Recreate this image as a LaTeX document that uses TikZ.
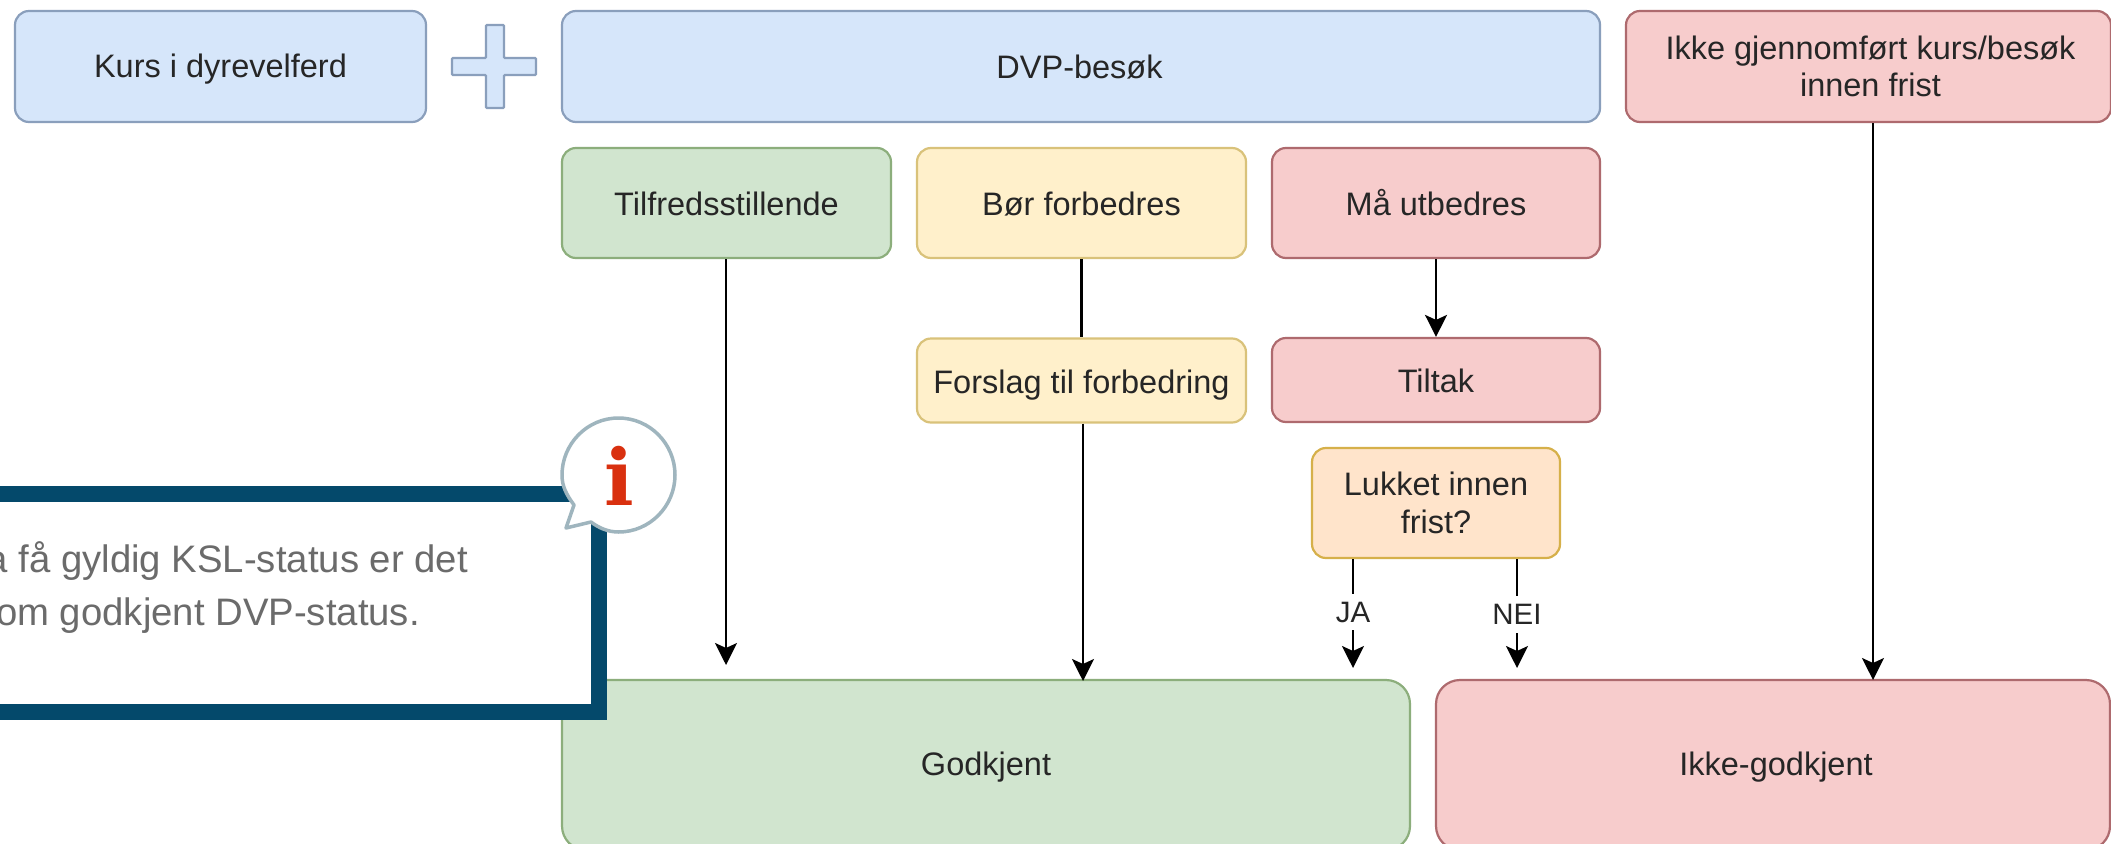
\documentclass[tikz,border=0pt]{standalone}
\usepackage{fontspec}
\setmainfont{Liberation Sans}
\newfontfamily\infoicon{DejaVu Serif}[BoldFont={* Bold}]
\usetikzlibrary{arrows.meta}
\definecolor{bluef}{HTML}{D6E6FA}\definecolor{blued}{HTML}{8A9FBC}
\definecolor{greenf}{HTML}{D1E5CF}\definecolor{greend}{HTML}{8CAE7C}
\definecolor{yellowf}{HTML}{FFF0CB}\definecolor{yellowd}{HTML}{D9C27A}
\definecolor{redf}{HTML}{F7CCCC}\definecolor{redd}{HTML}{AE6A6E}
\definecolor{orangef}{HTML}{FFE4CB}\definecolor{oranged}{HTML}{D6B04A}
\definecolor{infoblue}{HTML}{04496B}\definecolor{infogrey}{HTML}{9FB5BE}
\definecolor{infored}{HTML}{D9300F}\definecolor{txt}{HTML}{262626}
\tikzset{
  box/.style={rounded corners=14pt,line width=2.2pt,inner sep=0pt,align=center,text=txt,font=\fontsize{32.5}{37.5}\selectfont},
  bluebox/.style={box,fill=bluef,draw=blued},
  greenbox/.style={box,fill=greenf,draw=greend},
  yellowbox/.style={box,fill=yellowf,draw=yellowd},
  redbox/.style={box,fill=redf,draw=redd},
  orangebox/.style={box,fill=orangef,draw=oranged},
  conn/.style={line width=2.2pt,black},
  arr/.style={conn,-{Stealth[length=22pt,width=22pt,inset=5pt]}},
  lab/.style={fill=white,inner xsep=2pt,inner ysep=8pt,text=txt,font=\fontsize{29.5}{34}\selectfont},
  infotext/.style={anchor=base east,text=black!58,font=\fontsize{38.3}{44}\selectfont,inner sep=0pt},
}
\newcommand{\baseat}[2]{\raisebox{-#1pt}[0pt][0pt]{#2}}
\begin{document}
\begin{tikzpicture}[x=1pt,y=-1pt]
\useasboundingbox (0,0) rectangle (2111,843);
\clip (0,0) rectangle (2111,843);
\fill[white] (0,0) rectangle (2111,843);
\node[bluebox,minimum width=411pt,minimum height=111pt] (kurs) at (220.5,66.5) {\baseat{11.5}{Kurs i dyrevelferd}};
\draw[line width=2.2pt,draw=blued,fill=bluef,rounded corners=1pt] (486,25) -- (504,25) -- (504,58) -- (536,58) -- (536,75) -- (504,75) -- (504,108) -- (486,108) -- (486,75) -- (452,75) -- (452,58) -- (486,58) -- cycle;
\node[bluebox,minimum width=1038pt,minimum height=111pt] (dvp) at (1081,66.5) {\baseat{12.5}{\hspace{-3pt}DVP-besøk}};
\node[redbox,minimum width=485pt,minimum height=111pt] (ikke) at (1868.5,66.5) {\hspace{4pt}Ikke gjennomført kurs/besøk\\\hspace{4pt}innen frist};
\coordinate (a1) at (726,665);
\coordinate (a2) at (1083,681);
\coordinate (a3) at (1353,668);
\coordinate (a4) at (1517,668);
\coordinate (a5) at (1873,680);
\node[greenbox,minimum width=329pt,minimum height=110pt] (tilf) at (726.5,203) {\baseat{12}{Tilfredsstillende}};
\node[yellowbox,minimum width=329pt,minimum height=110pt] (bor) at (1081.5,203) {\baseat{12}{Bør forbedres}};
\node[redbox,minimum width=328pt,minimum height=110pt] (maa) at (1436,203) {\baseat{12}{Må utbedres}};
\node[yellowbox,minimum width=329pt,minimum height=84pt] (fors) at (1081.5,380.5) {\baseat{12.5}{Forslag til forbedring}};
\node[redbox,minimum width=328pt,minimum height=84pt] (tilt) at (1436,380) {\baseat{12}{Tiltak}};
\node[orangebox,minimum width=248pt,minimum height=110pt] (luk) at (1436,503) {Lukket innen\\frist?};
\node[greenbox,minimum width=848pt,minimum height=170pt,rounded corners=24pt] (god) at (986,765) {\baseat{10}{Godkjent}};
\node[redbox,minimum width=674pt,minimum height=170pt,rounded corners=24pt] (ikg) at (1773,765) {\baseat{10}{\hspace{6pt}Ikke-godkjent}};
\draw[conn] (bor.south) -- (fors.north);
\draw[arr] (ikke.south -| a5) -- (a5);
\draw[arr] (tilf.south -| a1) -- (a1);
\draw[arr] (fors.south -| a2) -- (a2);
\draw[arr] (maa.south) -- (tilt.north);
\draw[arr] (luk.south -| a3) -- node[lab,pos=.486] (ja) {JA} (a3);
\draw[arr] (luk.south -| a4) -- node[lab,pos=.51] (nei) {NEI} (a4);
% info panel
\draw[line width=16pt,draw=infoblue,fill=white] (-30,494) -- (599,494) -- (599,712) -- (-30,712) -- cycle;
\node[infotext] (i1) at (468,572) {a få gyldig KSL-status er det};
\node[infotext] (i2) at (420,625) {om godkjent DVP-status.};
\draw[line width=3.5pt,draw=infogrey,fill=white,line join=round] (574,505) .. controls (566,494) and (562,486) .. (562,475) .. controls (562,444) and (587,418) .. (618.5,418) .. controls (650,418) and (675,444) .. (675,475) .. controls (675,506) and (650,532) .. (618.5,532) .. controls (608,532) and (599,528) .. (591,522) -- (566,528) -- cycle;
\node[text=infored,font={\infoicon\bfseries\fontsize{78}{78}\selectfont},inner sep=0pt] (icon) at (619,476) {i};
\end{tikzpicture}
\end{document}
